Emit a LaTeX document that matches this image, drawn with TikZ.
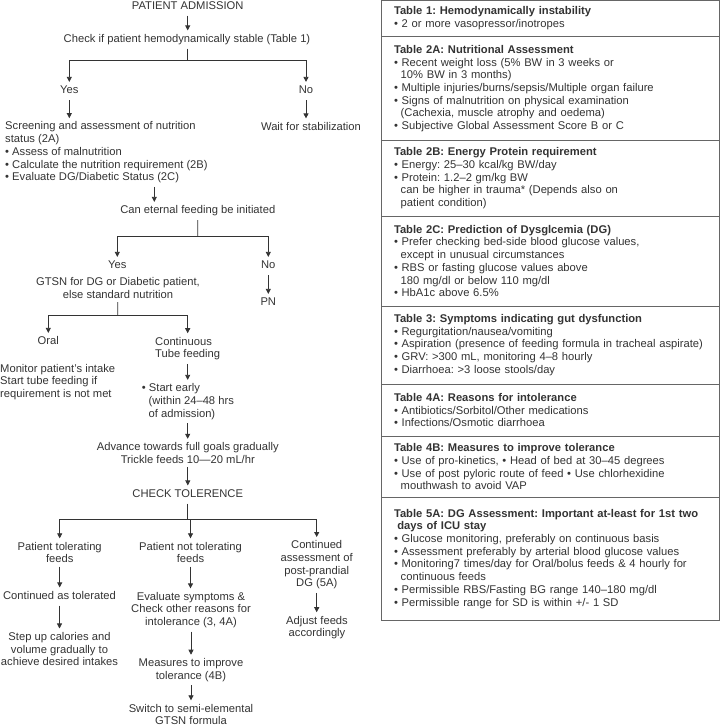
\documentclass[tikz,border=0pt]{standalone}
\usepackage{fontspec}
\setmainfont{Liberation Sans}
\usepackage{tikz}
\usetikzlibrary{arrows.meta, positioning}
\definecolor{inkgray}{HTML}{333333}
\definecolor{framegray}{HTML}{666666}
\newcommand{\bul}{\textbullet\ }
\newcommand{\ind}{\hspace*{0.6em}}
\frenchspacing

\begin{document}
\begin{tikzpicture}[
    x=1pt, y=-1pt,
    every node/.style={font=\fontsize{11.2}{12.7}\selectfont, text=inkgray},
    oneline/.style={align=center, inner xsep=1pt, inner ysep=3.5pt, text height=8.3pt, text depth=2.5pt},
    manyline/.style={align=center, inner xsep=1pt, inner ysep=3.5pt},
    leftblock/.style={align=left, inner xsep=0pt, inner ysep=3.5pt, anchor=west},
    tblbox/.style={rectangle, draw=framegray, line width=0.8pt, outer sep=0pt, text width=312pt, inner xsep=13pt, inner ysep=3pt, align=left},
    arrow/.style={-{Triangle[length=5pt,width=5pt]}, draw=inkgray, line width=0.8pt},
    link/.style={draw=inkgray, line width=0.8pt}
]
\useasboundingbox (0,0) rectangle (720,727);

% flow chart
\node[oneline] (adm) at (187.7,6.5) {PATIENT ADMISSION};
\node[oneline] (chk) at (187,39.5) {Check if patient hemodynamically stable (Table 1)};
\coordinate (fork1) at (187,60);
\node[oneline] (yes1) at (69.3,91) {Yes};
\node[oneline] (no1) at (306,91) {No};
\node[leftblock] (scr) at (5,152.5) {Screening and assessment of nutrition\\status (2A)\\\bul Assess of malnutrition\\\bul Calculate the nutrition requirement (2B)\\\bul Evaluate DG/Diabetic Status (2C)};
\node[oneline] (wait) at (311,127.5) {Wait for stabilization};
\node[oneline] (can) at (197.8,211) {Can eternal feeding be initiated};
\coordinate (fork2) at (197.7,236.7);
\node[oneline] (yes2) at (117.3,266) {Yes};
\node[oneline] (no2) at (268.3,266) {No};
\node[manyline] (gtsn) at (118,288) {GTSN for DG or Diabetic patient,\\else standard nutrition};
\node[oneline] (pn) at (268.3,303) {PN};
\coordinate (fork3) at (117.7,315);
\node[oneline] (oral) at (48.3,342) {Oral};
\node[leftblock] (cont) at (155,348.5) {Continuous\\Tube feeding};
\node[leftblock] (mon) at (0,382) {Monitor patient's intake\\Start tube feeding if\\requirement is not met};
\node[leftblock] (early) at (141.7,401.5) {\bul Start early\\\ind(within 24--48 hrs\\\ind of admission)};
\node[manyline] (adv) at (187.8,453) {Advance towards full goals gradually\\Trickle feeds 10---20 mL/hr};
\node[oneline] (tol) at (187.7,494.5) {CHECK TOLERENCE};
\coordinate (fork4) at (187.7,519);
\node[manyline] (ptf) at (59.7,552.5) {Patient tolerating\\feeds};
\node[manyline] (pnt) at (190.5,552.5) {Patient not tolerating\\feeds};
\node[manyline] (cad) at (316.7,565) {Continued\\assessment of\\post-prandial\\DG (5A)};
\node[oneline] (cat) at (59.5,596.5) {Continued as tolerated};
\node[manyline] (stp) at (59.5,649) {Step up calories and\\volume gradually to\\achieve desired intakes};
\node[manyline] (evs) at (191,610) {Evaluate symptoms \&\\Check other reasons for\\intolerance (3, 4A)};
\node[manyline] (msr) at (191,670) {Measures to improve\\tolerance (4B)};
\node[manyline] (swt) at (191,714.5) {Switch to semi-elemental\\GTSN formula};
\node[manyline] (adj) at (317,627.5) {Adjust feeds\\accordingly};

\draw[arrow] (adm) -- (adm |- chk.north);
\draw[link] (chk) -- (fork1);
\draw[arrow] (fork1) -| (yes1);
\draw[arrow] (fork1) -| (no1);
\draw[arrow] (yes1) -- (yes1 |- scr.north);
\draw[arrow] (no1) -- (no1 |- wait.north);
\path (scr.south -| can.north) ++(-43.5,0) coordinate (drop);
\draw[arrow] (drop) -- (drop |- can.north);
\draw[link] (can) -- (fork2);
\draw[arrow] (fork2) -| (yes2);
\draw[arrow] (fork2) -| (no2);
\draw[arrow] (no2) -- (pn);
\draw[link] (gtsn) -- (fork3);
\draw[arrow] (fork3) -| (oral);
\draw[arrow] (fork3) -| (cont);
\draw[arrow] (cont) -- (cont |- early.north);
\draw[arrow] (cont |- early.south) -- (cont |- adv.north);
\draw[arrow] (adv) -- (adv |- tol.north);
\draw[link] (tol) -- (fork4);
\draw[arrow] (fork4) -| (ptf);
\draw[arrow] (fork4) -| (cad);
\draw[arrow] (fork4 -| pnt) -- (pnt);
\draw[arrow] (ptf) -- (ptf |- cat.north);
\draw[arrow] (cat) -- (cat |- stp.north);
\draw[arrow] (pnt) -- (pnt |- evs.north);
\draw[arrow] (evs) -- (evs |- msr.north);
\draw[arrow] (msr) -- (msr |- swt.north);
\draw[arrow] (cad) -- (cad |- adj.north);

% tables
\node[tblbox, minimum height=36.7pt, anchor=north west] (tab1) at (381,0) {\textbf{Table 1: Hemodynamically instability}\\
\bul 2 or more vasopressor/inotropes};
\node[tblbox, minimum height=104pt, below=0pt of tab1] (tab2a) {\textbf{Table 2A: Nutritional Assessment}\\
\bul Recent weight loss (5\% BW in 3 weeks or\\
\ind 10\% BW in 3 months)\\
\bul Multiple injuries/burns/sepsis/Multiple organ failure\\
\bul Signs of malnutrition on physical examination\\
\ind (Cachexia, muscle atrophy and oedema)\\
\bul Subjective Global Assessment Score B or C};
\node[tblbox, minimum height=75.3pt, below=0pt of tab2a] (tab2b) {\textbf{Table 2B: Energy Protein requirement}\\
\bul Energy: 25--30 kcal/kg BW/day\\
\bul Protein: 1.2--2 gm/kg BW\\
\ind can be higher in trauma* (Depends also on\\
\ind patient condition)};
\node[tblbox, minimum height=90pt, below=0pt of tab2b] (tab2c) {\textbf{Table 2C: Prediction of Dysglcemia (DG)}\\
\bul Prefer checking bed-side blood glucose values,\\
\ind except in unusual circumstances\\
\bul RBS or fasting glucose values above\\
\ind 180 mg/dl or below 110 mg/dl\\
\bul HbA1c above 6.5\%};
\node[tblbox, minimum height=78pt, below=0pt of tab2c] (tab3) {\textbf{Table 3: Symptoms indicating gut dysfunction}\\
\bul Regurgitation/nausea/vomiting\\
\bul Aspiration (presence of feeding formula in tracheal aspirate)\\
\bul GRV: >300 mL, monitoring 4--8 hourly\\
\bul Diarrhoea: >3 loose stools/day};
\node[tblbox, minimum height=52pt, below=0pt of tab3] (tab4a) {\textbf{Table 4A: Reasons for intolerance}\\
\bul Antibiotics/Sorbitol/Other medications\\
\bul Infections/Osmotic diarrhoea};
\node[tblbox, minimum height=61.3pt, below=0pt of tab4a] (tab4b) {\textbf{Table 4B: Measures to improve tolerance}\\
\bul Use of pro-kinetics, \textbullet{} Head of bed at 30--45 degrees\\
\bul Use of post pyloric route of feed \textbullet{} Use chlorhexidine\\
\ind mouthwash to avoid VAP};
\node[tblbox, minimum height=122.7pt, below=0pt of tab4b] (tab5a) {\textbf{Table 5A: DG Assessment: Important at-least for 1st two}\\
\hspace*{0.3em}\textbf{days of ICU stay}\\
\bul Glucose monitoring, preferably on continuous basis\\
\bul Assessment preferably by arterial blood glucose values\\
\bul Monitoring7 times/day for Oral/bolus feeds \& 4 hourly for\\
\ind continuous feeds\\
\bul Permissible RBS/Fasting BG range 140--180 mg/dl\\
\bul Permissible range for SD is within +/- 1 SD};
\end{tikzpicture}
\end{document}
